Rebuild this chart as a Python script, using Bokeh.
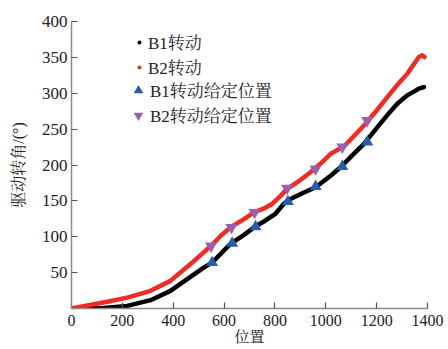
from bokeh.plotting import figure
from bokeh.models import Range1d, FixedTicker, Legend, LegendItem
from bokeh.embed import file_html
from bokeh.resources import INLINE

# B1 rotation curve
b1_x = [0, 60, 126, 219, 311, 389, 455, 520, 553, 586, 625, 680, 717, 760, 802, 835, 861, 910,
        960, 1019, 1058, 1100, 1150, 1200, 1242, 1280, 1320, 1350, 1366, 1379, 1386]
b1_y = [0, 0.3, 0.8, 3.6, 11.6, 24.6, 41, 57, 64, 76, 90, 103, 113, 122, 132, 146, 152.7, 161,
        169, 185, 196.8, 212, 229.5, 251.5, 269.5, 285, 297, 303, 306.4, 308, 308.6]

# B2 rotation curve
b2_x = [0, 88, 150, 219, 311, 389, 468, 534, 549, 586, 625, 680, 717, 760, 789, 822, 848, 900,
        940, 980, 1019, 1071, 1110, 1150, 1200, 1242, 1280, 1320, 1366, 1379, 1388]
b2_y = [0, 6, 10, 15.2, 24.6, 38.5, 61.9, 82.8, 87, 101, 113, 125, 134, 140, 145.7, 157, 166.7, 179,
        190, 202, 215.6, 225.8, 240, 255, 276, 294.6, 311, 327, 350.5, 353, 350.5]

# given positions
b1_set_x = [553, 632, 724, 851, 960, 1065, 1163]
b1_set_y = [64, 91, 114, 149, 170, 198, 232]
b2_set_x = [549, 629, 720, 848, 960, 1065, 1163]
b2_set_y = [87, 113, 134, 167.5, 194.6, 225, 262]

x_ticks = [0, 200, 400, 600, 800, 1000, 1200, 1400]
y_ticks = [50, 100, 150, 200, 250, 300, 350, 400]

SERIF = "'Liberation Serif','Noto Serif CJK SC','Noto Sans CJK SC'"

p = figure(width=448, height=349, output_backend="svg", toolbar_location=None,
           x_range=Range1d(0, 1400), y_range=Range1d(0, 400),
           min_border_left=71, min_border_right=21, min_border_top=21, min_border_bottom=41)
p.outline_line_color = None
p.xgrid.grid_line_color = None
p.ygrid.grid_line_color = None
p.background_fill_color = "white"
p.border_fill_color = "white"

for ax in (p.xaxis[0], p.yaxis[0]):
    ax.axis_line_color = "#8a8a8a"
    ax.axis_line_width = 1.5
    ax.major_tick_line_color = "#555555"
    ax.major_tick_line_width = 1.2
    ax.major_tick_in = 6
    ax.major_tick_out = 0
    ax.minor_tick_line_color = None
    ax.major_label_text_font = SERIF
    ax.major_label_text_color = "#222222"
    ax.axis_label_text_font = SERIF
    ax.axis_label_text_font_style = "normal"
    ax.axis_label_text_color = "#222222"

p.xaxis[0].ticker = FixedTicker(ticks=x_ticks)
p.yaxis[0].ticker = FixedTicker(ticks=y_ticks)
p.xaxis[0].major_label_text_font_size = "16px"
p.yaxis[0].major_label_text_font_size = "17px"
p.xaxis[0].major_label_standoff = 6
p.yaxis[0].major_label_standoff = 4
p.xaxis[0].axis_label = "位置"
p.yaxis[0].axis_label = "驱动转角/(°)"
p.xaxis[0].axis_label_text_font_size = "15px"
p.yaxis[0].axis_label_text_font_size = "16px"
p.xaxis[0].axis_label_standoff = 0
p.yaxis[0].axis_label_standoff = 12

l1 = p.line(b1_x, b1_y, line_color="black", line_width=4.5, line_join="round", line_cap="round")
l2 = p.line(b2_x, b2_y, line_color="#ee2b25", line_width=4.5, line_join="round", line_cap="round")
t1 = p.scatter(b1_set_x, b1_set_y, marker="triangle", size=12, fill_color="#2a5cae", line_color=None)
t2 = p.scatter(b2_set_x, b2_set_y, marker="inverted_triangle", size=12, fill_color="#9b5fac", line_color=None)

d1 = p.scatter([-100], [-100], marker="circle", size=5, fill_color="black", line_color=None)
d2 = p.scatter([-100], [-100], marker="circle", size=5, fill_color="#ee2b25", line_color=None)


def style_legend(lg, glyph, standoff):
    lg.background_fill_alpha = 0
    lg.border_line_color = None
    lg.padding = 0
    lg.margin = 0
    lg.spacing = 0
    lg.glyph_width = glyph
    lg.glyph_height = glyph
    lg.label_height = 23
    lg.label_standoff = standoff
    lg.label_text_font = SERIF
    lg.label_text_font_size = "17px"
    lg.label_text_color = "#222222"


legend_a = Legend(items=[
    LegendItem(label="B1转动", renderers=[d1]),
    LegendItem(label="B2转动", renderers=[d2]),
], location=(63, 229))
style_legend(legend_a, 10, 4)

legend_b = Legend(items=[
    LegendItem(label="B1转动给定位置", renderers=[t1]),
    LegendItem(label="B2转动给定位置", renderers=[t2]),
], location=(55, 181))
style_legend(legend_b, 24, 0)

p.add_layout(legend_a, "center")
p.add_layout(legend_b, "center")

open("out.html", "w").write(file_html(p, INLINE))
